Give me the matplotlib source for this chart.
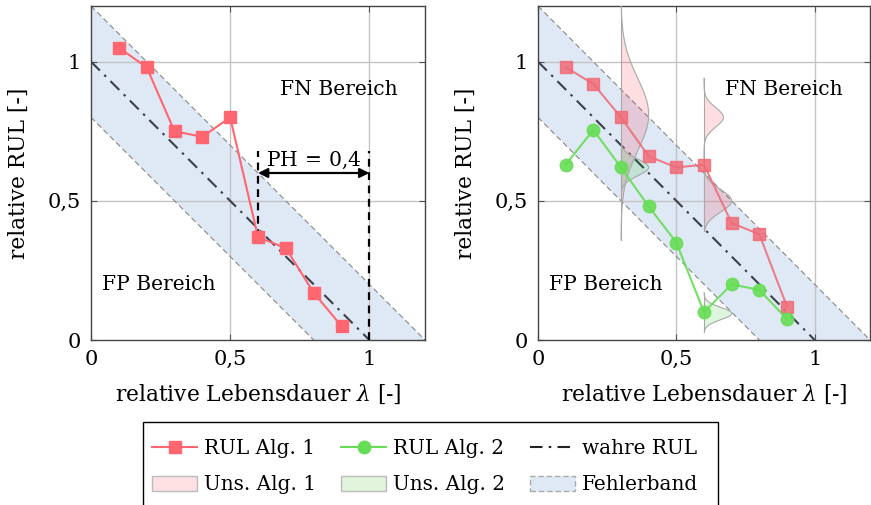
import numpy as np
import matplotlib
matplotlib.use("Agg")
import matplotlib.pyplot as plt
from matplotlib.patches import Polygon, Patch, Rectangle
from matplotlib.lines import Line2D

plt.rcParams['font.family'] = ['DejaVu Serif']
plt.rcParams['mathtext.fontset'] = 'dejavuserif'
plt.rcParams['font.size'] = 14

# ---------------- data ----------------
lam = [0.1, 0.2, 0.3, 0.4, 0.5, 0.6, 0.7, 0.8, 0.9]
rul_left_alg1 = [1.05, 0.98, 0.75, 0.73, 0.80, 0.37, 0.33, 0.17, 0.05]
rul_right_alg1 = [0.98, 0.92, 0.80, 0.66, 0.62, 0.63, 0.42, 0.38, 0.12]
rul_right_alg2 = [0.63, 0.755, 0.62, 0.48, 0.35, 0.10, 0.20, 0.18, 0.075]
true_rul_x = [0.0, 1.0]
true_rul_y = [1.0, 0.0]
band_width = 0.2
ph_start = 0.6
ph_end = 1.0
ph_label = "PH$\\,=\\,$0,4"

# uncertainty distributions: (x position, y range, [(mean, sigma, amplitude), ...])
unc_alg1 = [
    (0.3, (0.36, 1.2), [(0.81, 0.13, 0.10)]),
    (0.6, (0.39, 0.94), [(0.80, 0.035, 0.07), (0.50, 0.04, 0.10)]),
]
unc_alg2 = [
    (0.3, (0.54, 0.70), [(0.62, 0.03, 0.10)]),
    (0.6, (0.03, 0.17), [(0.095, 0.022, 0.10)]),
]

ticks = [0, 0.5, 1]
tick_labels = ["0", "0,5", "1"]

# ---------------- style ----------------
RED = '#ff6670'
GREEN = '#66dd55'
BAND = '#dfe8f5'
GRID = '#c4c4c4'
LABEL_FS = 15.7
TICK_FS = 15
TEXT_FS = 14.6
LEG_FS = 14.4

fig = plt.figure(figsize=(8.71, 5.05), dpi=100)
axL = fig.add_axes([91/871, 1-340/505, 334/871, 334/505])
axR = fig.add_axes([538/871, 1-340/505, 332/871, 334/505])


def base(ax):
    ax.set_xlim(0, 1.2)
    ax.set_ylim(0, 1.2)
    # error band
    poly = Polygon([(0, 1 + band_width), (1 + band_width, 0), (1 - band_width, 0), (0, 1 - band_width)],
                   closed=True, facecolor=BAND, edgecolor='none', zorder=0)
    ax.add_patch(poly)
    ax.plot([0, 1 + band_width], [1 + band_width, 0], ls=(0, (5, 3)), color='#888888', lw=0.8, zorder=1)
    ax.plot([0, 1 - band_width], [1 - band_width, 0], ls=(0, (5, 3)), color='#888888', lw=0.8, zorder=1)
    for t in ticks[1:]:
        ax.axhline(t, color=GRID, lw=1, zorder=0.5)
        ax.axvline(t, color=GRID, lw=1, zorder=0.5)
    ax.plot(true_rul_x, true_rul_y, color='#3a3f48', lw=1.5, ls=(0, (6, 3, 1.2, 3)), zorder=2)
    ax.set_xticks(ticks)
    ax.set_xticklabels(tick_labels, fontsize=TICK_FS)
    ax.set_yticks(ticks)
    ax.set_yticklabels(tick_labels, fontsize=TICK_FS)
    ax.tick_params(direction='in', top=True, right=True, length=4, color='#555555', pad=7)
    for s in ax.spines.values():
        s.set_color('#444444')
        s.set_linewidth(1.0)
    ax.set_xlabel("relative Lebensdauer $\\lambda$ [-]", labelpad=10, fontsize=LABEL_FS)
    ax.set_ylabel("relative RUL [-]", labelpad=13, fontsize=LABEL_FS)
    ax.text(0.89, 0.90, "FN Bereich", ha='center', va='center', zorder=5, fontsize=TEXT_FS)
    ax.text(0.245, 0.20, "FP Bereich", ha='center', va='center', zorder=5, fontsize=TEXT_FS)


base(axL)
base(axR)

# left plot
axL.plot(lam, rul_left_alg1, color=RED, lw=1.5, marker='s', ms=9, zorder=4)
axL.plot([ph_start, ph_start], [rul_left_alg1[5], 0.68], color='black', lw=1.6, ls=(0, (3.5, 2.5)), zorder=3)
axL.plot([ph_end, ph_end], [0, 0.68], color='black', lw=1.6, ls=(0, (3.5, 2.5)), zorder=3)
axL.annotate("", xy=(ph_start, 0.6), xytext=(ph_end, 0.6),
             arrowprops=dict(arrowstyle='<|-|>', color='black', lw=1.6, mutation_scale=14, shrinkA=0, shrinkB=0),
             zorder=5)
axL.text((ph_start + ph_end) / 2, 0.645, ph_label, ha='center', va='center', zorder=5, fontsize=TEXT_FS)


def draw_unc(ax, specs, fc):
    for x0, (y0, y1), comps in specs:
        y = np.linspace(y0, y1, 300)
        w = np.zeros_like(y)
        for m, s, a in comps:
            w += a * np.exp(-0.5 * ((y - m) / s) ** 2)
        ax.fill_betweenx(y, x0, x0 + w, facecolor=fc, edgecolor='none', zorder=2.5)
        ax.plot(x0 + w, y, color='#a8a8a8', lw=0.8, zorder=2.6)
        ax.plot([x0, x0], [y0, y1], color='#a8a8a8', lw=0.8, zorder=2.6)


draw_unc(axR, unc_alg1, (1.0, 0.0, 0.1, 0.13))
draw_unc(axR, unc_alg2, (0.0, 0.75, 0.0, 0.13))

axR.plot(lam, rul_right_alg1, color='#f06a76', lw=1.5, alpha=0.85, marker='s', ms=9, zorder=4)
axR.plot(lam, rul_right_alg2, color=GREEN, lw=1.5, alpha=0.9, marker='o', ms=9, zorder=4)

# legend frame (drawn manually, pgfplots-like padding)
fig.patches.append(Rectangle((143/871, -0.01), (718-143)/871, (1-422/505) + 0.01,
                             transform=fig.transFigure, facecolor='white',
                             edgecolor='black', lw=1.0, zorder=0))

h_rul1 = Line2D([], [], color=RED, lw=1.5, marker='s', ms=9)
h_rul2 = Line2D([], [], color=GREEN, lw=1.5, marker='o', ms=9)
h_true = Line2D([], [], color='#222222', lw=1.5, ls=(0, (6, 3, 1.2, 3)))
h_unc1 = Patch(facecolor='#ffe0e3', edgecolor='#bbbbbb', lw=1)
h_unc2 = Patch(facecolor='#e0f5dc', edgecolor='#bbbbbb', lw=1)
h_band = Patch(facecolor=BAND, edgecolor='#aaaaaa', lw=1, ls=(0, (4, 2)))
leg = fig.legend([h_rul1, h_unc1, h_rul2, h_unc2, h_true, h_band],
                 ["RUL Alg. 1", "Uns. Alg. 1", "RUL Alg. 2", "Uns. Alg. 2", "wahre RUL", "Fehlerband"],
                 ncol=3, loc='upper left', bbox_to_anchor=(152/871, 1-439/505),
                 frameon=False, borderaxespad=0, borderpad=0,
                 handlelength=2.25, handleheight=0.75, handletextpad=0.35, columnspacing=1.25,
                 labelspacing=0.875, fontsize=LEG_FS)

fig.savefig("out.png", dpi=100)
